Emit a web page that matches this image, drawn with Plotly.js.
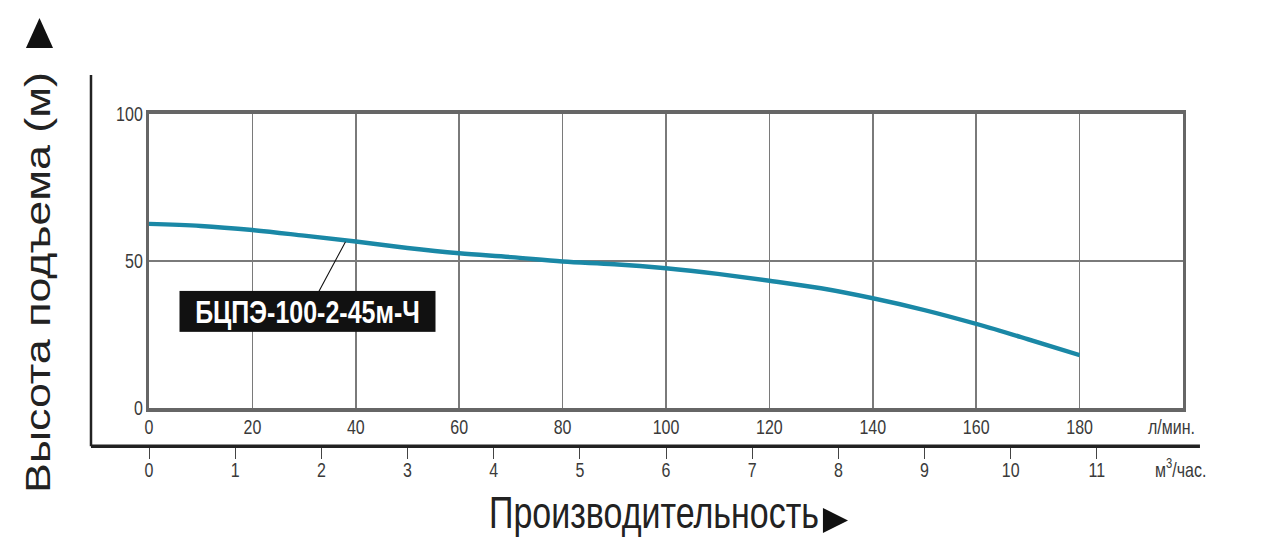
<!DOCTYPE html>
<html>
<head>
<meta charset="utf-8">
<script src="https://cdn.plot.ly/plotly-3.0.1.min.js"></script>
<style>
  html, body { margin: 0; padding: 0; background: #fff; }
  #wrap { width: 1261px; height: 555px; position: relative; overflow: hidden; }
  /* the reference picture is stretched vertically, so the chart is drawn shorter and scaled */
  #chart { position: absolute; left: 0; top: 0; width: 1261px; height: 434px;
           transform: scaleY(1.2788); transform-origin: 0 0; }
</style>
</head>
<body>
<div id="wrap"><div id="chart"></div></div>
<script>
// расход, л/мин
const flow = [0, 10, 20, 30, 40, 50, 60, 70, 80, 90, 100, 110, 120, 130, 140, 150, 160, 170, 180];
// напор, м
const head = [62.6, 61.9, 60.5, 58.6, 56.6, 54.4, 52.6, 51.3, 49.8, 48.9, 47.5, 45.6, 43.3, 40.7, 37.3, 33.3, 28.6, 23.4, 18.0];

const flowTicks = [0, 20, 40, 60, 80, 100, 120, 140, 160, 180];
const headTicks = [0, 50, 100];
const m3Ticks = [0, 1, 2, 3, 4, 5, 6, 7, 8, 9, 10, 11];

const pumpName = "БЦПЭ-100-2-45м-Ч";
const fnt = "Liberation Sans, Arial, sans-serif";

const trace = {
  x: flow,
  y: head,
  type: "scatter",
  mode: "lines",
  line: { color: "#1a88a6", width: 3.5, shape: "spline" },
  hoverinfo: "skip",
  showlegend: false
};

// невидимый след, чтобы появилась вторая ось (м3/час)
const traceM3 = {
  x: [0, 12],
  y: [null, null],
  xaxis: "x2",
  yaxis: "y",
  type: "scatter",
  mode: "lines",
  showlegend: false,
  hoverinfo: "skip"
};

const layout = {
  width: 1261,
  height: 434,
  margin: { l: 149, r: 78, t: 89, b: 85 },
  paper_bgcolor: "#fff",
  plot_bgcolor: "#fff",
  font: { family: fnt, color: "#333" },
  showlegend: false,
  xaxis: {
    range: [0, 200],
    tickvals: flowTicks,
    ticks: "",
    ticklabelstandoff: -2,
    tickfont: { size: 16, color: "#3a3a3a" },
    showgrid: true,
    gridcolor: "#7a7a7a",
    gridwidth: 1.5,
    zeroline: false,
    showline: true,
    mirror: true,
    linecolor: "#666",
    linewidth: 3,
    anchor: "y",
    fixedrange: true
  },
  xaxis2: {
    range: [0, 12],
    overlaying: "x",
    anchor: "free",
    position: 0,
    side: "bottom",
    tickvals: m3Ticks,
    ticks: "outside",
    ticklen: 9,
    tickwidth: 1,
    tickcolor: "#444",
    ticklabelstandoff: -5,
    tickfont: { size: 16, color: "#3a3a3a" },
    showgrid: false,
    zeroline: false,
    showline: false,
    fixedrange: true
  },
  yaxis: {
    domain: [0.115, 1],
    range: [0, 100],
    tickvals: headTicks,
    ticks: "",
    tickfont: { size: 16, color: "#3a3a3a" },
    showgrid: true,
    gridcolor: "#7a7a7a",
    gridwidth: 1.5,
    zeroline: false,
    showline: true,
    mirror: true,
    linecolor: "#666",
    linewidth: 3,
    fixedrange: true
  },
  shapes: [
    // внешняя рамка осей
    { type: "line", xref: "paper", yref: "paper", x0: -0.0561, x1: 1.0164, y0: 0, y1: 0,
      line: { color: "#222", width: 2.8 } },
    { type: "line", xref: "paper", yref: "paper", x0: -0.0561, x1: -0.0561, y0: 0, y1: 1.117,
      line: { color: "#222", width: 2.5 } },
    // стрелки
    { type: "path", xref: "paper", yref: "paper",
      path: "M -0.119 1.198 L -0.0928 1.198 L -0.1059 1.288 Z",
      fillcolor: "#111", line: { width: 0 } },
    { type: "path", xref: "paper", yref: "paper",
      path: "M 0.6518 -0.1854 L 0.676 -0.2231 L 0.6518 -0.2608 Z",
      fillcolor: "#111", line: { width: 0 } }
  ],
  annotations: [
    {
      text: "Высота подъема (м)",
      xref: "paper", yref: "paper",
      x: -0.1074, y: 0.494,
      xanchor: "center", yanchor: "middle",
      textangle: -90,
      showarrow: false,
      font: { family: fnt, size: 35, color: "#222" }
    },
    {
      text: "Производительность",
      xref: "paper", yref: "paper",
      x: 0.4884, y: -0.2,
      xanchor: "center", yanchor: "middle",
      showarrow: false,
      font: { family: fnt, size: 34, color: "#222" }
    },
    {
      text: "л/мин.",
      xref: "paper", yref: "paper",
      x: 0.9884, y: 0.058,
      xanchor: "center", yanchor: "middle",
      showarrow: false,
      font: { family: fnt, size: 16, color: "#3a3a3a" }
    },
    {
      text: "м<sup>3</sup>/час.",
      xref: "paper", yref: "paper",
      x: 0.998, y: -0.066,
      xanchor: "center", yanchor: "middle",
      showarrow: false,
      font: { family: fnt, size: 16, color: "#3a3a3a" }
    },
    {
      text: "<b>" + pumpName + "</b>",
      xref: "x", yref: "y",
      x: 38, y: 56.5,
      ax: -37.5, ay: 54.8,
      showarrow: true,
      arrowhead: 0,
      arrowwidth: 1,
      arrowcolor: "#111",
      bgcolor: "#111",
      borderpad: 0,
      width: 255,
      height: 31,
      font: { family: fnt, size: 25, color: "#fff" }
    }
  ]
};

Plotly.newPlot("chart", [trace, traceM3], layout, { displayModeBar: false, staticPlot: true });
</script>
</body>
</html>
